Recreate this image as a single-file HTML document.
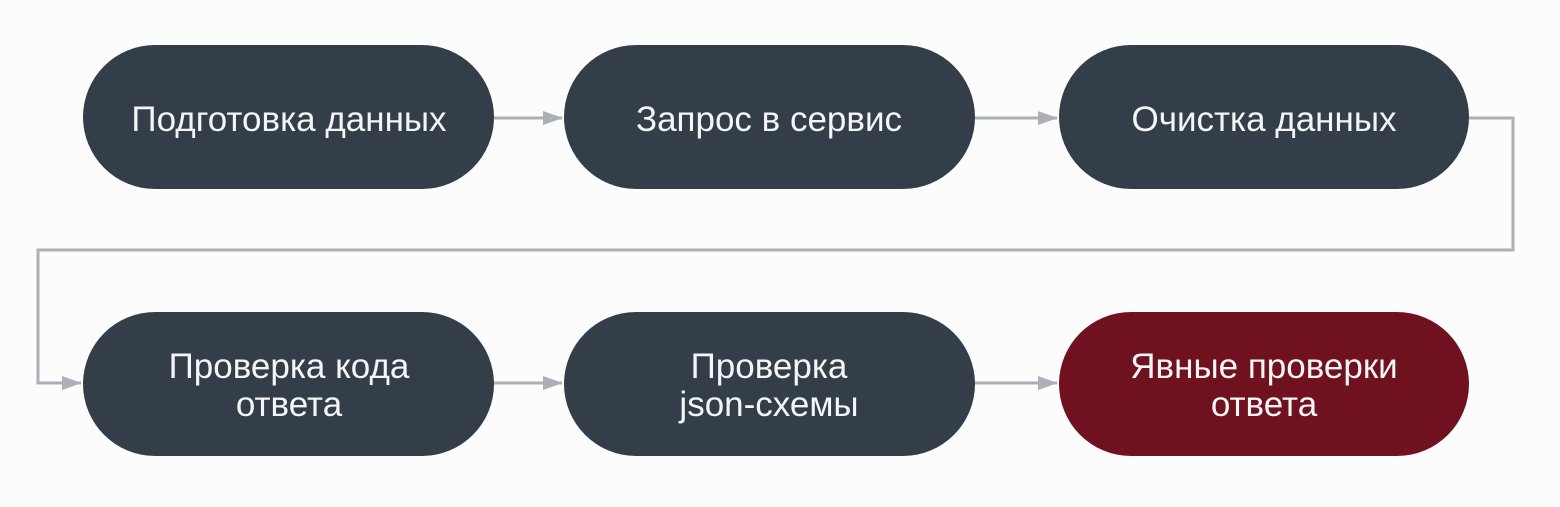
<!DOCTYPE html>
<html><head><meta charset="utf-8"><style>
html,body{margin:0;padding:0;background:#fcfcfc;}
svg{display:block}
text{font-family:"Liberation Sans","DejaVu Sans",sans-serif;font-size:35px;fill:#f4f5f6;text-anchor:middle}
</style></head><body>
<svg width="1560" height="507" viewBox="0 0 1560 507" xmlns="http://www.w3.org/2000/svg">
<defs><marker id="a" markerWidth="20" markerHeight="16" refX="19" refY="8" orient="auto" markerUnits="userSpaceOnUse"><path d="M0,1 L20,8 L0,15 Z" fill="#acb0b6"/></marker></defs>
<g stroke="#acb0b6" stroke-width="3" fill="none">
<line x1="494" y1="118" x2="562" y2="118" marker-end="url(#a)"/>
<line x1="975" y1="118" x2="1057" y2="118" marker-end="url(#a)"/>
<polyline points="1469,118 1513,118 1513,250 38,250 38,383 81,383" marker-end="url(#a)"/>
<line x1="494" y1="383" x2="562" y2="383" marker-end="url(#a)"/>
<line x1="975" y1="383" x2="1057" y2="383" marker-end="url(#a)"/>
</g>
<g fill="#343e48">
<rect x="83" y="45" width="411" height="144" rx="72"/>
<rect x="564" y="45" width="411" height="144" rx="72"/>
<rect x="1059" y="45" width="410" height="144" rx="72"/>
<rect x="83" y="312" width="411" height="144" rx="72"/>
<rect x="564" y="312" width="411" height="144" rx="72"/>
</g>
<rect x="1059" y="312" width="410" height="144" rx="72" fill="#6f111e"/>
<text x="289" y="131">Подготовка данных</text>
<text x="769" y="131">Запрос в сервис</text>
<text x="1264" y="131">Очистка данных</text>
<text x="289" y="378">Проверка кода</text>
<text x="289" y="416">ответа</text>
<text x="769" y="378">Проверка</text>
<text x="769" y="416">json-схемы</text>
<text x="1264" y="378">Явные проверки</text>
<text x="1264" y="416">ответа</text>
</svg>
</body></html>
